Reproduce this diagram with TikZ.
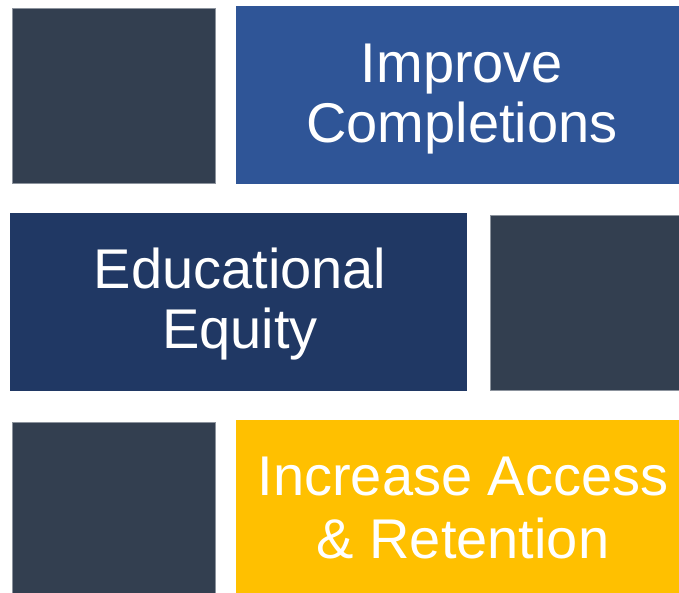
\documentclass[tikz,border=0pt]{standalone}
\usepackage{fontspec}
\setmainfont{Liberation Sans}
\definecolor{slate}{HTML}{333F50}
\definecolor{slateedge}{HTML}{8C939D}
\definecolor{midblue}{HTML}{2F5597}
\definecolor{navy}{HTML}{203864}
\definecolor{gold}{HTML}{FFC000}
\begin{document}
\begin{tikzpicture}[x=1pt,y=-1pt,
  darkbox/.style={fill=slate,draw=slateedge,line width=0.8pt},
  label/.style={text=white,align=center,inner sep=0pt,anchor=base,
    font=\fontsize{56}{60}\selectfont}]
\useasboundingbox (0,0) rectangle (679,592);
\fill[white] (0,0) rectangle (679,592);
% row 1
\draw[darkbox] (12.5,8.5) rectangle (215,183);
\fill[midblue] (236,6) rectangle (690,184);
% row 2
\fill[navy] (10,213) rectangle (466.5,390.5);
\draw[darkbox] (490.5,215.5) rectangle (690,390);
% row 3
\draw[darkbox] (12.5,422.5) rectangle (215,600);
\fill[gold] (236,420) rectangle (690,600);
% texts
\node[label] (t1) at (462,142) {Improve\\Completions};
\node[label] (t2) at (240,348) {Educational\\Equity};
\node[label,font=\fontsize{56}{63}\selectfont] (t3) at (463,558) {Increase Access\\\& Retention};
\end{tikzpicture}
\end{document}
